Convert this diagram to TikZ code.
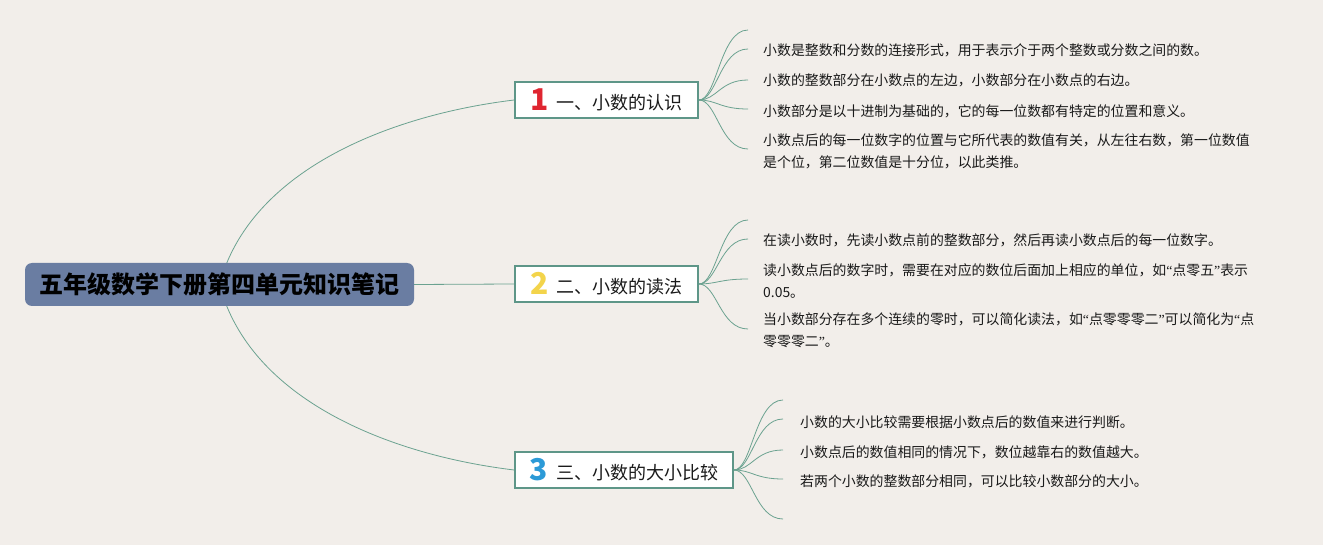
\documentclass[tikz,border=0pt]{standalone}
\usepackage{fontspec}
\newfontfamily\cjk{Noto Sans CJK SC}
\newfontfamily\latq{Liberation Serif}
\usetikzlibrary{calc}
\definecolor{bgc}{HTML}{F2EEEA}
\definecolor{rootc}{HTML}{6A7DA2}
\definecolor{boxline}{HTML}{5E9688}
\definecolor{linec}{HTML}{6BA290}
\definecolor{numred}{HTML}{DF2530}
\definecolor{numyel}{HTML}{F3D44B}
\definecolor{numblue}{HTML}{2C9AD7}
\definecolor{txt}{HTML}{1A1A1A}
\pgfdeclarelayer{bgl}
\pgfdeclarelayer{edges}
\pgfsetlayers{bgl,edges,main}
\newcommand\bignum[2]{\raisebox{-1pt}{\textcolor{#1}{\cjk\bfseries\fontsize{30}{30}\selectfont #2}}\hspace{8pt}}
\newcommand\myLq{{\latq “}}
\newcommand\myRq{{\latq ”}}
\begin{document}
\begin{tikzpicture}[x=1pt,y=-1pt,
  rootbox/.style={fill=rootc, draw=none, rounded corners=7pt, minimum width=389pt, minimum height=43pt, inner sep=0pt,
    font=\cjk\bfseries\fontsize{24}{28}\selectfont, text=black},
  topic/.style={fill=white, draw=boxline, line width=1.8pt, minimum height=36pt, inner sep=0pt,
    font=\cjk\fontsize{18}{22}\selectfont, text=txt},
  leaf/.style={anchor=west, inner sep=0pt, align=left, text=txt,
    font=\cjk\fontsize{13.9}{22}\selectfont},
  conn/.style={draw=linec, line width=0.8pt},
]
\begin{pgfonlayer}{bgl}
\fill[bgc] (0,0) rectangle (1323,545);
\end{pgfonlayer}
\useasboundingbox (0,0) rectangle (1323,545);

% root
\node[rootbox] (root) at (219.5,284.5) {五年级数学下册第四单元知识笔记};

% topics
\node[topic, minimum width=183pt] (b1) at (606.5,100) {\bignum{numred}{1}一、小数的认识};
\node[topic, minimum width=183pt] (b2) at (606.5,284) {\bignum{numyel}{2}二、小数的读法};
\node[topic, minimum width=218pt] (b3) at (624,470) {\bignum{numblue}{3}三、小数的大小比较};

% leaf texts
\node[leaf] (t11) at (763,50) {小数是整数和分数的连接形式，用于表示介于两个整数或分数之间的数。};
\node[leaf] (t12) at (763,80) {小数的整数部分在小数点的左边，小数部分在小数点的右边。};
\node[leaf] (t13) at (763,111) {小数部分是以十进制为基础的，它的每一位数都有特定的位置和意义。};
\node[leaf] (t14) at (763,151) {小数点后的每一位数字的位置与它所代表的数值有关，从左往右数，第一位数值\\是个位，第二位数值是十分位，以此类推。};

\node[leaf] (t21) at (763,240) {在读小数时，先读小数点前的整数部分，然后再读小数点后的每一位数字。};
\node[leaf] (t22) at (763,281.5) {读小数点后的数字时，需要在对应的数位后面加上相应的单位，如\myLq 点零五\myRq 表示\\0.05。};
\node[leaf] (t23) at (763,330.5) {当小数部分存在多个连续的零时，可以简化读法，如\myLq 点零零零二\myRq 可以简化为\myLq 点\\零零零二\myRq 。};

\node[leaf] (t31) at (800,422) {小数的大小比较需要根据小数点后的数值来进行判断。};
\node[leaf] (t32) at (800,452) {小数点后的数值相同的情况下，数位越靠右的数值越大。};
\node[leaf] (t33) at (800,481) {若两个小数的整数部分相同，可以比较小数部分的大小。};

% leaf end points
\coordinate (c10) at (748,30);
\coordinate (c11) at (748,49);
\coordinate (c12) at (748,80);
\coordinate (c13) at (748,109);
\coordinate (c14) at (748,149);
\coordinate (c20) at (748,220);
\coordinate (c21) at (748,239);
\coordinate (c22) at (748,279);
\coordinate (c23) at (748,329);
\coordinate (c30) at (783,400);
\coordinate (c31) at (783,419);
\coordinate (c32) at (783,450);
\coordinate (c33) at (783,479);
\coordinate (c34) at (783,519);

\begin{pgfonlayer}{edges}
% root connectors
\draw[conn] (root.center) .. controls (250,170) and (390,115) .. (b1.west);
\draw[conn] (root.east) -- (b2.west);
\draw[conn] (root.center) .. controls (250,400) and (390,455) .. (b3.west);
% leaf connectors
\foreach \c in {c10,c11,c12,c13,c14}
  \draw[conn] (b1.east) .. controls +(18,0) and +(-28,0) .. (\c);
\foreach \c in {c20,c21,c22,c23}
  \draw[conn] (b2.east) .. controls +(18,0) and +(-28,0) .. (\c);
\foreach \c in {c30,c31,c32,c33,c34}
  \draw[conn] (b3.east) .. controls +(18,0) and +(-28,0) .. (\c);
\end{pgfonlayer}
\end{tikzpicture}
\end{document}
